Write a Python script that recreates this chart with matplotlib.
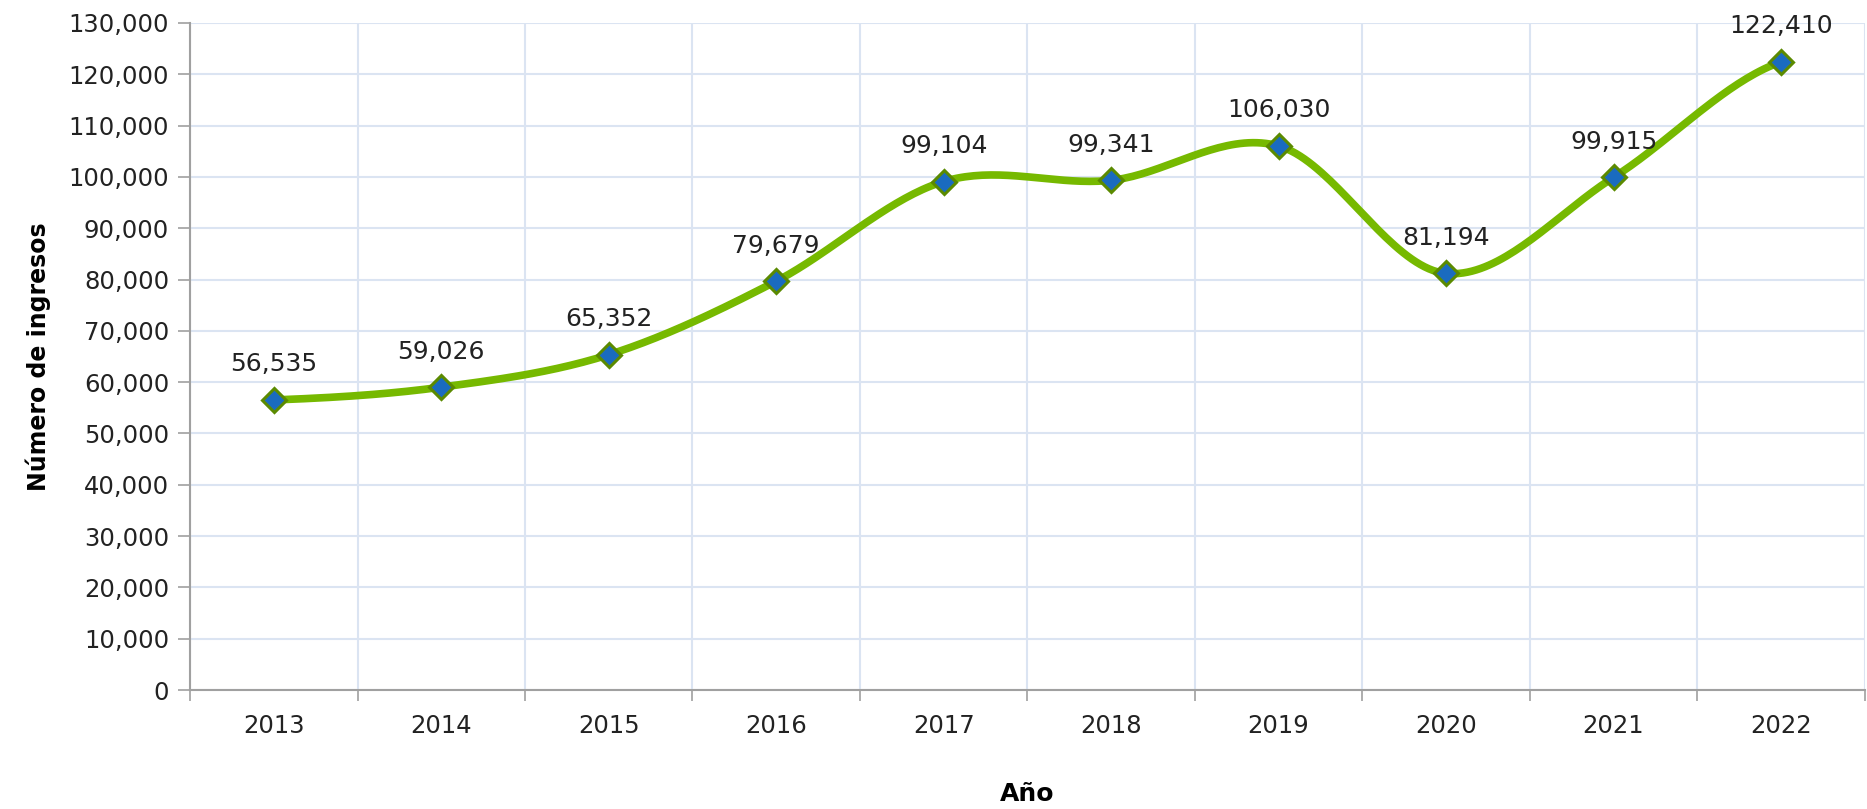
import numpy as np
import matplotlib.pyplot as plt
from matplotlib.ticker import FuncFormatter, FixedLocator

years = ["2013", "2014", "2015", "2016", "2017", "2018", "2019", "2020", "2021", "2022"]
ingresos = [56535, 59026, 65352, 79679, 99104, 99341, 106030, 81194, 99915, 122410]
y_ticks = list(range(0, 130001, 10000))


def smooth_curve(xs, ys, n=40):
    # catmull-rom style smoothing, similar to excel's smoothed line
    xs = np.asarray(xs, dtype=float)
    ys = np.asarray(ys, dtype=float)
    px = np.concatenate([[2 * xs[0] - xs[1]], xs, [2 * xs[-1] - xs[-2]]])
    py = np.concatenate([[ys[0]], ys, [ys[-1]]])
    out_x, out_y = [], []
    for i in range(1, len(px) - 2):
        x0, x1, x2, x3 = px[i - 1], px[i], px[i + 1], px[i + 2]
        y0, y1, y2, y3 = py[i - 1], py[i], py[i + 1], py[i + 2]
        t = np.linspace(0, 1, n)
        c1x, c1y = x1 + (x2 - x0) / 6, y1 + (y2 - y0) / 6
        c2x, c2y = x2 - (x3 - x1) / 6, y2 - (y3 - y1) / 6
        bx = (1 - t) ** 3 * x1 + 3 * (1 - t) ** 2 * t * c1x + 3 * (1 - t) * t ** 2 * c2x + t ** 3 * x2
        by = (1 - t) ** 3 * y1 + 3 * (1 - t) ** 2 * t * c1y + 3 * (1 - t) * t ** 2 * c2y + t ** 3 * y2
        out_x.extend(bx)
        out_y.extend(by)
    return np.array(out_x), np.array(out_y)


plt.rcParams['font.family'] = ['DejaVu Sans']

fig = plt.figure(figsize=(18.67, 8.09), dpi=100)
ax = fig.add_axes([0.1018, 0.147, 0.897, 0.8246])

x = np.arange(len(years))
sx, sy = smooth_curve(x, ingresos)
ax.plot(sx, sy, color='#76b900', linewidth=5.5, solid_capstyle='round', zorder=3)
ax.plot(x, ingresos, linestyle='none', marker='D', markersize=12.5,
        markerfacecolor='#1a6bbf', markeredgecolor='#5b8a00', markeredgewidth=2.2, zorder=4)

for xi, v in zip(x, ingresos):
    ax.annotate(f"{v:,}", (xi, v), xytext=(0, 17), textcoords='offset points',
                ha='center', va='bottom', fontsize=18, color='#222222')

ax.set_xlim(-0.5, len(years) - 0.5)
ax.set_ylim(0, 130000)
ax.yaxis.set_major_locator(FixedLocator(y_ticks))
ax.yaxis.set_major_formatter(FuncFormatter(lambda v, p: f"{int(v):,}"))

ax.set_xticks(x)
ax.set_xticklabels(years)
ax.set_xticks(np.arange(-0.5, len(years)), minor=True)
ax.tick_params(axis='x', which='major', length=0, pad=17, labelsize=17.5, labelcolor='#222222')
ax.tick_params(axis='x', which='minor', length=8, width=1.2, color='#a0a0a0')
ax.tick_params(axis='y', which='major', length=9, width=1.2, color='#a0a0a0', pad=6,
               labelsize=17.5, labelcolor='#222222')

ax.grid(True, axis='y', color='#dbe4f2', linewidth=1.5)
ax.grid(True, axis='x', which='minor', color='#dbe4f2', linewidth=1.5)
ax.set_axisbelow(True)

for side in ['top', 'right']:
    ax.spines[side].set_visible(False)
for side in ['left', 'bottom']:
    ax.spines[side].set_color('#a0a0a0')
    ax.spines[side].set_linewidth(1.5)

ax.set_ylabel("Número de ingresos", fontsize=17, fontweight='bold', labelpad=13)
ax.set_xlabel("Año", fontsize=18, fontweight='bold', labelpad=32)

fig.savefig("out.png", dpi=100)
